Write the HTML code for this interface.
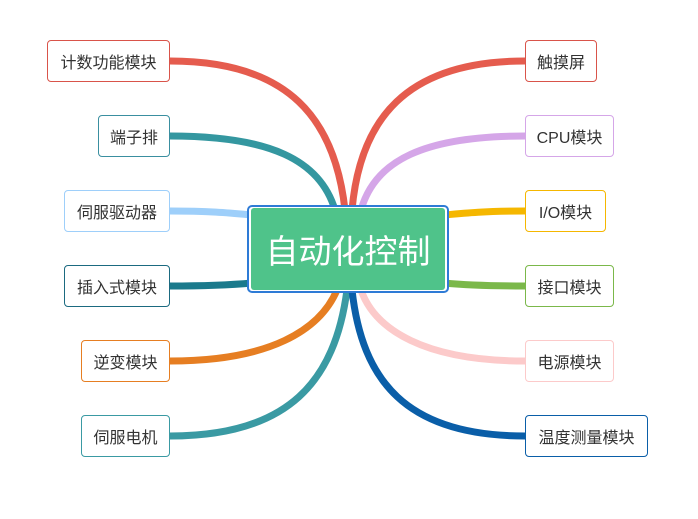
<!DOCTYPE html>
<html><head><meta charset="utf-8"><style>
body{margin:0;background:#fff;width:698px;height:519px;overflow:hidden;position:relative;font-family:"Liberation Sans","Noto Sans CJK SC",sans-serif}
.n{position:absolute;height:42px;box-sizing:border-box;border:1px solid;border-radius:4px;background:#fff;font-size:16px;color:#333;display:flex;align-items:center;justify-content:center}
svg{position:absolute;left:0;top:0}
</style></head><body>
<svg width="698" height="519" fill="none" stroke-width="7" stroke-linecap="butt">
<path d="M170,61 C290,61 335,120 345,210" stroke="#e55c4e"/>
<path d="M170,136 C270,136 320,160 335,210" stroke="#3497a0"/>
<path d="M170,211 C210,211 230,213 252,215" stroke="#9ecffa"/>
<path d="M170,286 C210,286 230,285 252,283" stroke="#1b7a8c"/>
<path d="M170,361 C270,361 320,330 337,290" stroke="#e67e22"/>
<path d="M170,436 C290,436 335,380 347,290" stroke="#3a9aa3"/>
<path d="M525,61 C405,61 360,120 352,210" stroke="#e55c4e"/>
<path d="M525,136 C425,136 375,160 361,210" stroke="#d5a6e8"/>
<path d="M525,211 C485,211 465,213 444,215" stroke="#f5b700"/>
<path d="M525,286 C485,286 465,285 444,283" stroke="#7bb84a"/>
<path d="M525,361 C425,361 375,330 361,290" stroke="#fccaca"/>
<path d="M525,436 C405,436 362,380 352,290" stroke="#0a5ea8"/>
</svg>
<div style="position:absolute;left:247px;top:205px;width:202px;height:88px;box-sizing:border-box;border:2px solid #2e7bd6;border-radius:5px;background:#fff"></div>
<div style="position:absolute;left:251px;top:208px;width:194px;height:82px;background:#4fc38a;border-radius:3px;color:#fff;font-size:33px;display:flex;align-items:center;justify-content:center">自动化控制</div>
<div class="n" style="left:47px;top:40px;width:123px;border-color:#d9544a">计数功能模块</div>
<div class="n" style="left:98px;top:115px;width:72px;border-color:#3a8fa0">端子排</div>
<div class="n" style="left:64px;top:190px;width:106px;border-color:#9ecffa">伺服驱动器</div>
<div class="n" style="left:64px;top:265px;width:106px;border-color:#1b6a80">插入式模块</div>
<div class="n" style="left:81px;top:340px;width:89px;border-color:#e67e22">逆变模块</div>
<div class="n" style="left:81px;top:415px;width:89px;border-color:#3a9aa3">伺服电机</div>
<div class="n" style="left:525px;top:40px;width:72px;border-color:#d9544a">触摸屏</div>
<div class="n" style="left:525px;top:115px;width:89px;border-color:#d5a6e8">CPU模块</div>
<div class="n" style="left:525px;top:190px;width:81px;border-color:#f5b700">I/O模块</div>
<div class="n" style="left:525px;top:265px;width:89px;border-color:#7bb84a">接口模块</div>
<div class="n" style="left:525px;top:340px;width:89px;border-color:#fccaca">电源模块</div>
<div class="n" style="left:525px;top:415px;width:123px;border-color:#0a5ea8">温度测量模块</div>
</body></html>
